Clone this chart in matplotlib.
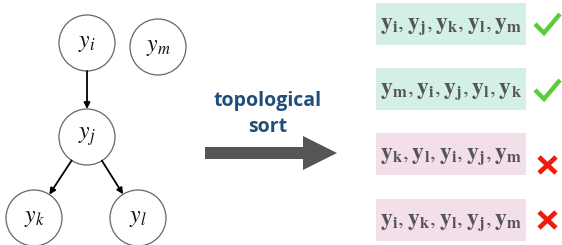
import matplotlib.pyplot as plt
from matplotlib.patches import Circle, Rectangle, FancyArrow

plt.rcParams["mathtext.fontset"] = "stix"

# graph nodes (pixel layout of the drawing)
node_names = ["i", "m", "j", "k", "l"]
node_x = [87, 158, 87, 34, 138]
node_y = [43, 47, 137, 218, 218]
edges = [("i", "j"), ("j", "k"), ("j", "l")]

# candidate orderings and whether they are valid topological orders
orders = [
    ["i", "j", "k", "l", "m"],
    ["m", "i", "j", "l", "k"],
    ["k", "l", "i", "j", "m"],
    ["i", "k", "l", "j", "m"],
]
valid = [True, True, False, False]
box_top = [3, 68, 133, 199]
mark_y = [25, 91, 165, 220]

R = 28

fig = plt.figure(figsize=(5.62, 2.45), dpi=100)
ax = fig.add_axes([0, 0, 1, 1])
ax.set_xlim(0, 562)
ax.set_ylim(245, 0)
ax.axis("off")

pos = {n: (x, y) for n, x, y in zip(node_names, node_x, node_y)}
for n, (x, y) in pos.items():
    ax.add_patch(Circle((x, y), R, fill=False, ec="#666666", lw=0.9))
    ax.text(x, y - 1, f"$y_{n}$", ha="center", va="center", fontsize=17, color="#111111")

for a, b in edges:
    (x0, y0), (x1, y1) = pos[a], pos[b]
    dx, dy = x1 - x0, y1 - y0
    d = (dx**2 + dy**2) ** 0.5
    ux, uy = dx / d, dy / d
    ax.annotate("", xy=(x1 - ux * R, y1 - uy * R), xytext=(x0 + ux * R, y0 + uy * R),
                arrowprops=dict(arrowstyle="-|>", color="black", lw=1.3,
                                mutation_scale=9, shrinkA=0, shrinkB=0))

# big arrow
ax.add_patch(FancyArrow(205, 153, 132, 0, width=12, head_width=34, head_length=34,
                        length_includes_head=True, color="#555555", lw=0))
ax.text(268, 101, "topological", ha="center", va="center", fontsize=14,
        fontweight="bold", color="#1f4e79", family="Open Sans")
ax.text(268, 127, "sort", ha="center", va="center", fontsize=14,
        fontweight="bold", color="#1f4e79", family="Open Sans")

for order, ok, top, my in zip(orders, valid, box_top, mark_y):
    fc = "#d3efe6" if ok else "#f3dfea"
    ax.add_patch(Rectangle((376, top), 150, 42, fc=fc, ec="none"))
    label = ", ".join(r"\mathbf{y_{%s}}" % n for n in order)
    ax.text(451, top + 22, f"${label}$", ha="center", va="center",
            fontsize=17, color="#555555")
    if ok:
        ax.plot([535, 544, 560], [my - 1, my + 8, my - 11], color="#5ccc3c",
                lw=3.2, solid_joinstyle="miter", solid_capstyle="butt")
    else:
        ax.plot([539, 556], [my - 8, my + 8], color="#ee1c0c", lw=3.4,
                solid_capstyle="butt")
        ax.plot([539, 556], [my + 8, my - 8], color="#ee1c0c", lw=3.4,
                solid_capstyle="butt")

fig.savefig("out.png", dpi=100)
